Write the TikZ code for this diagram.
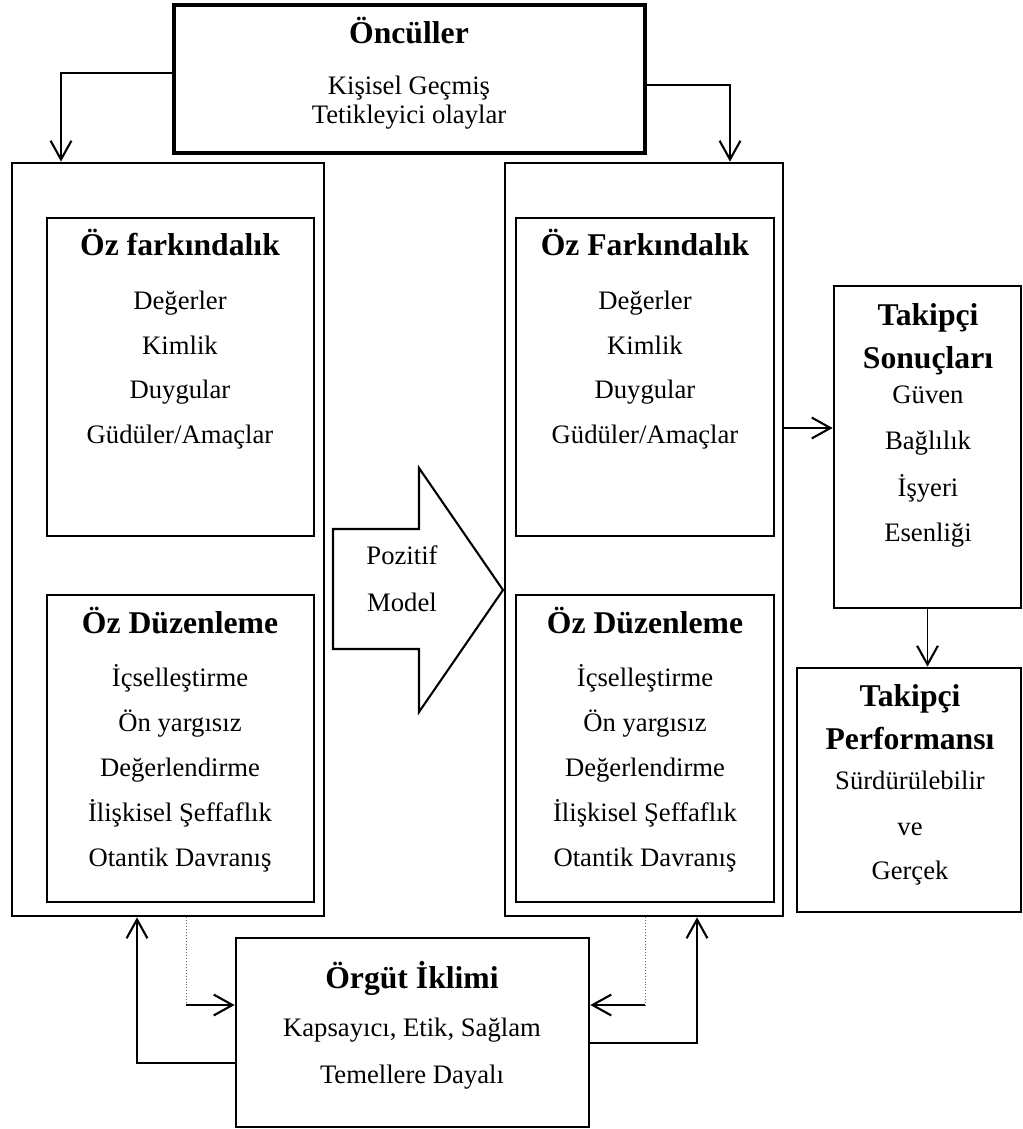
\documentclass[tikz,border=0pt]{standalone}
\usepackage{fontspec}
\setmainfont{Liberation Serif}
\usetikzlibrary{arrows.meta,positioning,calc,fit}

\tikzset{
  frame/.style={draw, line width=1.3pt, inner sep=0pt},
  ttl/.style={font=\fontsize{15.2}{17}\selectfont\bfseries, inner sep=0pt, text height=11pt, text depth=3pt},
  itm/.style={font=\fontsize{12.8}{14}\selectfont, inner sep=0pt, text height=9pt, text depth=2.5pt},
  conn/.style={line width=0.8pt},
  arr/.style={conn, -{Straight Barb[length=9pt,width=10pt,line width=1pt]}},
  dots/.style={densely dotted, line width=0.4pt, black!60},
}

\begin{document}
\begin{tikzpicture}[x=0.48pt, y=-0.48pt]
  \useasboundingbox (0,0) rectangle (1023,1129);

  % Onculler
  \node[frame, line width=1.6pt, fit={(174,5) (645,153)}] (onc) {};
  \node[ttl] (oncT) at (409,35) {Öncüller};
  \node[itm] (onc1) at (409,88) {Kişisel Geçmiş};
  \node[itm] (onc2) at (409,117) {Tetikleyici olaylar};

  % left column
  \node[frame, fit={(12,163) (324,916)}] (lout) {};
  \node[frame, fit={(47,218) (314,536)}] (lfar) {};
  \node[ttl] (lfarT) at (180,247) {Öz farkındalık};
  \node[itm] (lfar1) at (180,303) {Değerler};
  \node[itm] (lfar2) at (180,348) {Kimlik};
  \node[itm] (lfar3) at (180,392) {Duygular};
  \node[itm] (lfar4) at (180,437) {Güdüler/Amaçlar};
  \node[frame, fit={(47,595) (314,902)}] (lduz) {};
  \node[ttl] (lduzT) at (180,625) {Öz Düzenleme};
  \node[itm] (lduz1) at (180,680) {İçselleştirme};
  \node[itm] (lduz2) at (180,725) {Ön yargısız};
  \node[itm] (lduz3) at (180,770) {Değerlendirme};
  \node[itm] (lduz4) at (180,815) {İlişkisel Şeffaflık};
  \node[itm] (lduz5) at (180,860) {Otantik Davranış};

  % right column
  \node[frame, fit={(505,163) (783,916)}] (rout) {};
  \node[frame, fit={(516,218) (774,536)}] (rfar) {};
  \node[ttl] (rfarT) at (645,247) {Öz Farkındalık};
  \node[itm] (rfar1) at (645,303) {Değerler};
  \node[itm] (rfar2) at (645,348) {Kimlik};
  \node[itm] (rfar3) at (645,392) {Duygular};
  \node[itm] (rfar4) at (645,437) {Güdüler/Amaçlar};
  \node[frame, fit={(516,595) (774,902)}] (rduz) {};
  \node[ttl] (rduzT) at (645,625) {Öz Düzenleme};
  \node[itm] (rduz1) at (645,680) {İçselleştirme};
  \node[itm] (rduz2) at (645,725) {Ön yargısız};
  \node[itm] (rduz3) at (645,770) {Değerlendirme};
  \node[itm] (rduz4) at (645,815) {İlişkisel Şeffaflık};
  \node[itm] (rduz5) at (645,860) {Otantik Davranış};

  % pozitif model arrow
  \draw[line width=1pt] (333,529) -- (419,529) -- (419,468) -- (503,590)
    -- (419,712) -- (419,649) -- (333,649) -- cycle;
  \node[itm] (poz1) at (402,558) {Pozitif};
  \node[itm] (poz2) at (402,605) {Model};

  % takipci boxes
  \node[frame, fit={(834,286) (1021,608)}] (tak) {};
  \node[ttl] (takT1) at (928,317) {Takipçi};
  \node[ttl] (takT2) at (928,360) {Sonuçları};
  \node[itm] (tak1) at (928,397) {Güven};
  \node[itm] (tak2) at (928,443) {Bağlılık};
  \node[itm] (tak3) at (928,490) {İşyeri};
  \node[itm] (tak4) at (928,535) {Esenliği};
  \node[frame, fit={(797,668) (1021,912)}] (perf) {};
  \node[ttl] (perfT1) at (910,698) {Takipçi};
  \node[ttl] (perfT2) at (910,741) {Performansı};
  \node[itm] (perf1) at (910,783) {Sürdürülebilir};
  \node[itm] (perf2) at (910,829) {ve};
  \node[itm] (perf3) at (910,873) {Gerçek};

  % orgut iklimi
  \node[frame, fit={(236,938) (589,1127)}] (org) {};
  \node[ttl] (orgT) at (412,980) {Örgüt İklimi};
  \node[itm] (org1) at (412,1030) {Kapsayıcı, Etik, Sağlam};
  \node[itm] (org2) at (412,1077) {Temellere Dayalı};

  % connectors
  \coordinate (kL) at (61,73);
  \coordinate (kR) at (730,85);
  \coordinate (kS) at (0,428);
  \coordinate (kA) at (137,1063);
  \coordinate (kB) at (186,1005);
  \coordinate (kC) at (645,1005);
  \coordinate (kD) at (697,1043);

  \draw[arr] (onc.west |- kL) -- (kL) -- (kL |- lout.north);
  \draw[arr] (onc.east |- kR) -- (kR) -- (kR |- rout.north);
  \draw[arr] (rout.east |- kS) -- (tak.west |- kS);
  \draw[arr] (tak.south) -- (tak.south |- perf.north);

  \draw[arr] (org.west |- kA) -- (kA) -- (kA |- lout.south);
  \draw[dots] (kB |- lout.south) -- (kB);
  \draw[arr] (kB) -- (org.west |- kB);
  \draw[dots] (kC |- rout.south) -- (kC);
  \draw[arr] (kC) -- (org.east |- kC);
  \draw[arr] (org.east |- kD) -- (kD) -- (kD |- rout.south);
\end{tikzpicture}
\end{document}
